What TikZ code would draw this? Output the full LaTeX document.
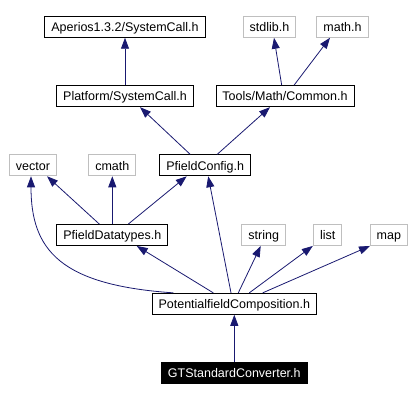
\documentclass[tikz,border=0pt]{standalone}
\usepackage{fontspec}
\setmainfont{Liberation Sans}
\usetikzlibrary{arrows.meta}
\definecolor{edgeblue}{RGB}{25,25,112}
\definecolor{boxgray}{RGB}{191,191,191}

\begin{document}
\begin{tikzpicture}[x=1pt, y=-1pt,
  file/.style={draw=black, line width=0.9pt, fill=white, inner xsep=6.5pt, inner ysep=0pt,
    minimum height=21pt, text height=9.4pt, text depth=0pt, font=\fontsize{12.5}{14}\selectfont},
  sysfile/.style={file, draw=boxgray},
  mainfile/.style={file, fill=black, text=white},
  dep/.style={draw=edgeblue, line width=0.8pt, -{Triangle[length=11pt,width=8pt]}}]
  \useasboundingbox (0, 0) rectangle (412, 401);
  \node [file] (AA) at (125, 26.8) {Aperios1.3.2/SystemCall.h};
  \node [sysfile] (AB) at (269.5, 26.8) {stdlib.h};
  \node [sysfile] (AC) at (342.5, 26.8) {math.h};
  \node [file] (BA) at (125, 96.2) {Platform/SystemCall.h};
  \node [file] (BB) at (285, 96.2) {Tools/Math/Common.h};
  \node [sysfile] (CA) at (33, 165.3) {vector};
  \node [sysfile] (CB) at (112.3, 165.3) {cmath};
  \node [file] (CC) at (205.2, 165.3) {PfieldConfig.h};
  \node [file] (DA) at (112.3, 235) {PfieldDatatypes.h};
  \node [sysfile] (DB) at (263.7, 235) {string};
  \node [sysfile] (DC) at (327.8, 235) {list};
  \node [sysfile] (DD) at (388.8, 235) {map};
  \node [file] (EA) at (234.3, 303.8) {PotentialfieldComposition.h};
  \node [mainfile] (FA) at (234.3, 373.2) {GTStandardConverter.h};
  \draw [dep] (BA.north) -- (AA.south);
  \draw [dep] ([xshift=-3.3pt]BB.north) -- ([xshift=4.5pt]AB.south);
  \draw [dep] ([xshift=9pt]BB.north) -- ([xshift=-12.5pt]AC.south);
  \draw [dep] ([xshift=-15pt]CC.north) -- ([xshift=15pt]BA.south);
  \draw [dep] ([xshift=12pt]CC.north) -- ([xshift=-15pt]BB.south);
  \draw [dep] ([xshift=-13pt]DA.north) -- ([xshift=14pt]CA.south);
  \draw [dep] (DA.north) -- (CB.south);
  \draw [dep] ([xshift=16pt]DA.north) -- ([xshift=-18.5pt]CC.south);
  \draw [dep] ([xshift=-61pt]EA.north) .. controls (60, 285) and (31, 250) .. ([xshift=-2pt]CA.south);
  \draw [dep] ([xshift=-3.3pt]EA.north) -- ([xshift=3pt]CC.south);
  \draw [dep] ([xshift=-21pt]EA.north) -- ([xshift=24.4pt]DA.south);
  \draw [dep] ([xshift=4pt]EA.north) -- ([xshift=-3pt]DB.south);
  \draw [dep] ([xshift=15pt]EA.north) -- ([xshift=-15pt]DC.south);
  \draw [dep] ([xshift=28.4pt]EA.north) -- ([xshift=-18.8pt]DD.south);
  \draw [dep] (FA.north) -- (EA.south);
\end{tikzpicture}
\end{document}
